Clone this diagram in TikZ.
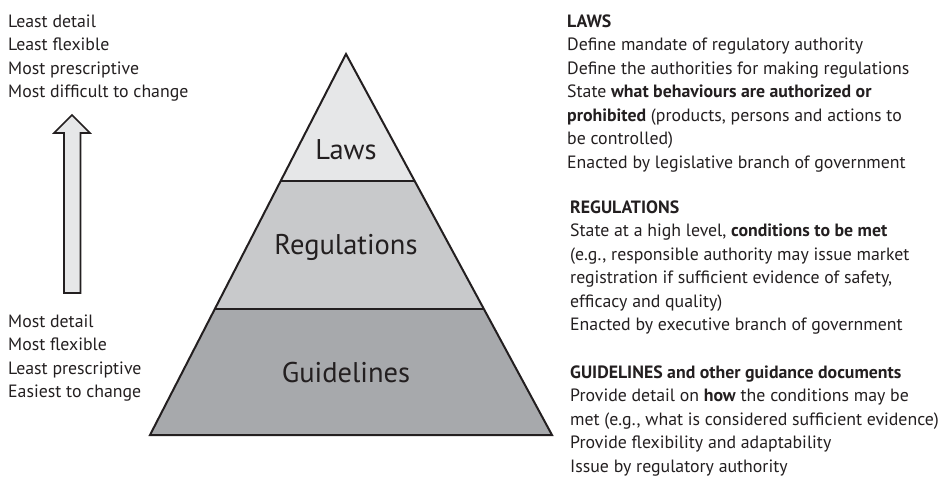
\documentclass[tikz,border=0pt]{standalone}
\usepackage{fontspec}
\usetikzlibrary{calc}
\setmainfont{PT Sans}
\definecolor{ink}{HTML}{231F20}
\definecolor{lawsfill}{HTML}{E6E7E8}
\definecolor{regsfill}{HTML}{C8C9CB}
\definecolor{guidefill}{HTML}{A7A9AC}
\definecolor{arrowfill}{HTML}{E6E7E8}
\tikzset{
  txt/.style={anchor=north west, inner sep=0pt, align=left, text=ink,
    font=\fontsize{17.8}{23.5}\selectfont},
  lvl/.style={inner sep=0pt, text=ink, font=\fontsize{28.5}{32}\selectfont},
  edge/.style={draw=ink, line width=2pt, line join=miter},
}
\begin{document}
\begin{tikzpicture}[x=1pt,y=-1pt]
\useasboundingbox (0,0) rectangle (946,477);
% pyramid corners
\coordinate (apex) at (346,54);
\coordinate (bl) at (150,435);
\coordinate (br) at (552,435);
\coordinate (l1) at ($(apex)!127/381!(bl)$);
\coordinate (r1) at ($(apex)!127/381!(br)$);
\coordinate (l2) at ($(apex)!255/381!(bl)$);
\coordinate (r2) at ($(apex)!255/381!(br)$);
\fill[lawsfill] (apex) -- (l1) -- (r1) -- cycle;
\fill[regsfill] (l1) -- (l2) -- (r2) -- (r1) -- cycle;
\fill[guidefill] (l2) -- (bl) -- (br) -- (r2) -- cycle;
\draw[edge] (apex) -- (bl) -- (br) -- cycle;
\draw[edge] (l1) -- (r1);
\draw[edge] (l2) -- (r2);
\node[lvl] (laws) at (346,150) {Laws};
\node[lvl] (regs) at (346,247) {Regulations};
\node[lvl] (guides) at (346,373) {Guidelines};
% arrow
\draw[draw=ink, line width=1.6pt, fill=arrowfill, line join=miter]
  (72,115) -- (90,133) -- (80.5,133) -- (80.5,293) -- (64,293) -- (64,133) -- (54,133) -- cycle;
% left texts
\node[txt] (top) at (8,10.5) {\strut Least detail\\Least flexible\\Most prescriptive\\Most difficult to change};
\node[txt] (bottom) at (8,310.5) {\strut Most detail\\Most flexible\\Least prescriptive\\Easiest to change};
% right texts
\node[txt] (lawsdesc) at (567,10.5) {\strut\textbf{LAWS}\\
Define mandate of regulatory authority\\
Define the authorities for making regulations\\
State \textbf{what behaviours are authorized or}\\
\textbf{prohibited} (products, persons and actions to\\
be controlled)\\
Enacted by legislative branch of government};
\node[txt] (regsdesc) at (570,196.8) {\strut\textbf{REGULATIONS}\\
State at a high level, \textbf{conditions to be met}\\
(e.g., responsible authority may issue market\\
registration if sufficient evidence of safety,\\
efficacy and quality)\\
Enacted by executive branch of government};
\node[txt] (guidesdesc) at (570,361.5) {\strut\textbf{GUIDELINES and other guidance documents}\\
Provide detail on \textbf{how} the conditions may be\\
met (e.g., what is considered sufficient evidence)\\
Provide flexibility and adaptability\\
Issue by regulatory authority};
\end{tikzpicture}
\end{document}
